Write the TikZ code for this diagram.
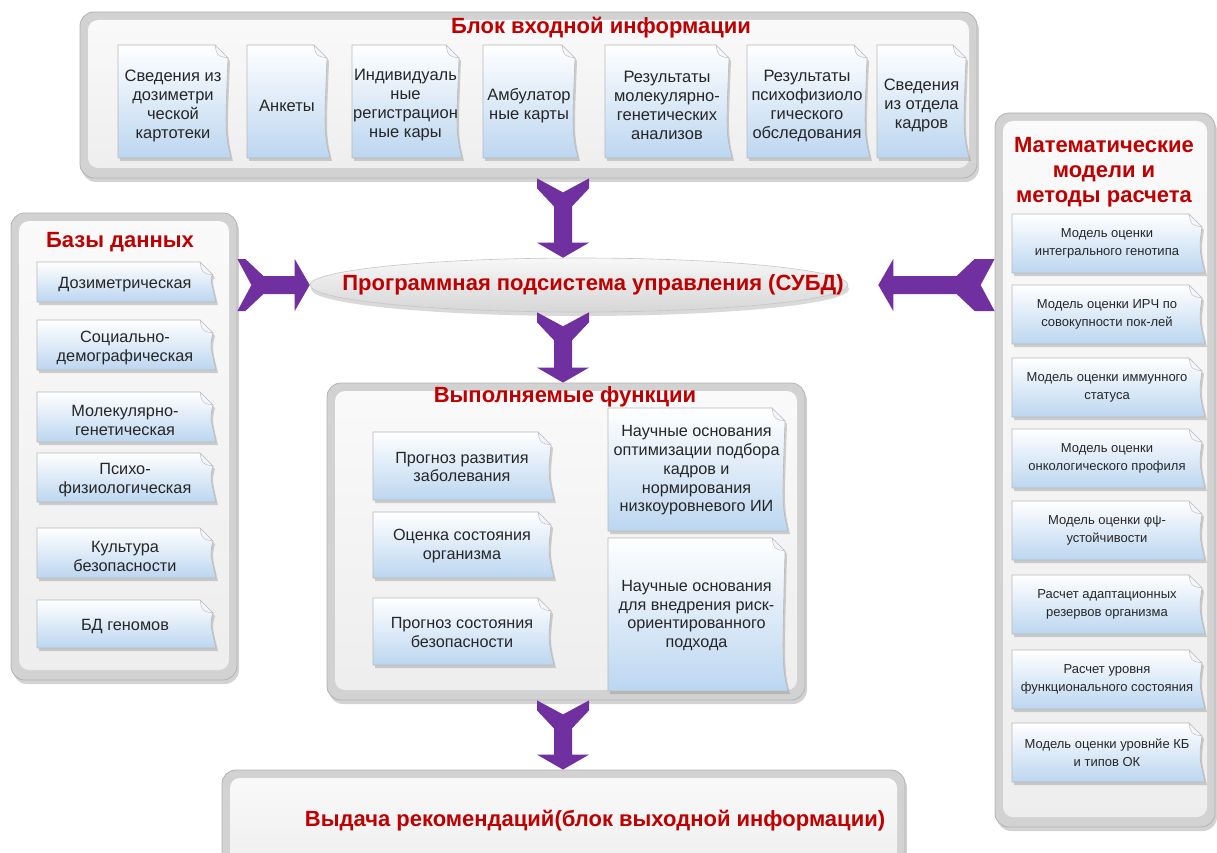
\documentclass[tikz,border=0pt]{standalone}
\usepackage{fontspec}
\setmainfont{Liberation Sans}
\usetikzlibrary{calc,shadows,shapes.geometric}

\begin{document}
\begin{tikzpicture}[x=1pt,y=-1pt,
	panel/.style={rectangle,rounded corners=14pt,draw=gray!60,line width=0.8pt,fill=gray!35,
		drop shadow={opacity=0.35,shadow xshift=2pt,shadow yshift=-4pt},
		path picture={\fill[rounded corners=10pt,top color=gray!4,bottom color=gray!14]
			([shift={(8pt,-8pt)}]path picture bounding box.north west) rectangle
			([shift={(-8pt,10pt)}]path picture bounding box.south east);}},
	subdbox/.style={ellipse,draw=gray!45,line width=0.6pt,top color=gray!6,bottom color=gray!32,
		drop shadow={opacity=0.3,shadow xshift=1pt,shadow yshift=-4pt}},
	title/.style={text=titlered,font=\fontsize{22}{25}\selectfont\bfseries,align=center,inner sep=0pt},
	cardbody/.style={top color=white,bottom color=cardblue,draw=gray!55,line width=0.6pt,
		drop shadow={opacity=0.35,shadow xshift=2pt,shadow yshift=-3pt}},
	cardfold/.style={fill=blue!4,draw=gray!50,line width=0.5pt},
	cardtext/.style={align=center,text=black!85,inner sep=0pt,font=\fontsize{15}{19}\selectfont},
	arrowc/.style={fill=arrowviolet}]

\definecolor{titlered}{RGB}{192,0,0}
\definecolor{arrowviolet}{RGB}{112,48,160}
\definecolor{cardblue}{RGB}{188,214,240}

\def\card#1#2#3#4#5#6{
	\path[cardbody] (#2,#3) -- (#4-13,#3) -- (#4,#3+13) .. controls (#4-3,#5-25) .. (#4+3,#5) -- (#2,#5) -- cycle;
	\path[cardfold] (#4-13,#3) -- (#4,#3+13) .. controls (#4-11,#3+11) .. (#4-13,#3) -- cycle;
	\node[cardtext] (#1) at ({(#2+#4)/2},{(#3+#5)/2}) {#6};
}

\def\fat#1#2#3{
	\fill[arrowc] ($(#1)!26pt!90:(#2)$) -- ($(#1)!14pt!(#2)$) -- ($(#1)!26pt!-90:(#2)$)
		-- ($(#1)!#3!(#2)!26pt!-90:(#2)$) -- ($(#1)!#3+18pt!(#2)!9pt!-90:(#2)$)
		-- ($(#2)!15pt!(#1)!9pt!90:(#1)$) -- ($(#2)!15pt!(#1)!26pt!90:(#1)$) -- (#2)
		-- ($(#2)!15pt!(#1)!26pt!-90:(#1)$) -- ($(#2)!15pt!(#1)!9pt!-90:(#1)$)
		-- ($(#1)!#3+18pt!(#2)!9pt!90:(#2)$) -- ($(#1)!#3!(#2)!26pt!90:(#2)$) -- cycle;
}

\useasboundingbox (0,0) rectangle (1217,853);
\clip (0,0) rectangle (1217,853);

\node[panel,minimum width=897pt,minimum height=166pt] (top) at (528.5,95) {};
\node[panel,minimum width=226pt,minimum height=467pt] (dbase) at (124,446.5) {};
\node[panel,minimum width=220pt,minimum height=714pt] (models) at (1105,470) {};
\node[panel,minimum width=478pt,minimum height=317pt] (func) at (566,541.5) {};
\node[panel,minimum width=683pt,minimum height=110pt] (out) at (563.5,825) {};
\node[subdbox,minimum width=538pt,minimum height=54pt] (subd) at (579,285) {};

\node[title] (toptitle) at (601,28) {Блок входной информации};
\node[title] (dbtitle) at (120,242) {Базы данных};
\node[title] (modtitle) at (1104,172) {Математические\\модели и\\методы расчета};
\node[title] (functitle) at (565,397) {Выполняемые функции};
\node[title] (subdtext) at (593,285) {Программная подсистема управления (СУБД)};
\node[title] (outtext) at (595,821) {Выдача рекомендаций(блок выходной информации)};

\begin{scope}[cardtext/.append style={font=\fontsize{16.5}{19}\selectfont,yshift=-4pt}]
	\foreach \n/\xa/\xb/\t in {in1/118/228/{Сведения из\\дозиметри\\ческой\\картотеки},
			in2/247/327/{Анкеты},
			in3/352/459/{Индивидуаль\\ные\\регистрацион\\ные кары},
			in4/483/575/{Амбулатор\\ные карты},
			in5/605/729/{Результаты\\молекулярно-\\генетических\\анализов},
			in6/747/867/{Результаты\\психофизиоло\\гического\\обследования},
			in7/877/966/{Сведения\\из отдела\\кадров}}{
		\card{\n}{\xa}{45}{\xb}{158}{\t}
	}
\end{scope}

\begin{scope}[cardtext/.append style={font=\fontsize{16.3}{19}\selectfont,yshift=-3pt}]
	\foreach \n/\ya/\yb/\t in {db1/262/302/{Дозиметрическая},
			db2/320/370/{Социально-\\демографическая},
			db3/392/442/{Молекулярно-\\генетическая},
			db4/453/502/{Психо-\\физиологическая},
			db5/528/578/{Культура\\безопасности},
			db6/600/648/{БД геномов}}{
		\card{\n}{37}{\ya}{213}{\yb}{\t}
	}
\end{scope}

\begin{scope}[cardtext/.append style={font=\fontsize{13}{17.5}\selectfont}]
	\foreach \n/\ya/\t in {md1/214/{Модель оценки\\интегрального генотипа},
			md2/285/{Модель оценки ИРЧ по\\совокупности пок-лей},
			md3/358/{Модель оценки иммунного\\статуса},
			md4/429/{Модель оценки\\онкологического профиля},
			md5/501/{Модель оценки φψ-\\устойчивости},
			md6/575/{Расчет адаптационных\\резервов организма},
			md7/650/{Расчет уровня\\функционального состояния},
			md8/723/{Модель оценки уровнйе КБ\\и типов ОК}}{
		\card{\n}{1012}{\ya}{1202}{\ya+59}{\t}
	}
\end{scope}

\begin{scope}[cardtext/.append style={font=\fontsize{16.2}{18.7}\selectfont,yshift=-1pt}]
	\card{fn1}{373}{432}{551}{500}{Прогноз развития\\заболевания}
	\card{fn2}{373}{512}{551}{578}{Оценка состояния\\организма}
	\card{fn3}{373}{598}{551}{665}{Прогноз состояния\\безопасности}
	\card{fn4}{608}{408}{785}{531}{Научные основания\\оптимизации подбора\\кадров и\\нормирования\\низкоуровневого ИИ}
	\card{fn5}{608}{538}{785}{691}{Научные основания\\для внедрения риск-\\ориентированного\\подхода}
\end{scope}

\coordinate (ax) at (563,0);
\coordinate (a1) at (ax |- top.south);
\coordinate (a2) at (ax |- subd.north);
\coordinate (a3) at (ax |- subd.south);
\coordinate (a4) at (ax |- func.north);
\coordinate (a5) at (ax |- func.south);
\coordinate (a6) at (ax |- out.north);
\coordinate (l1) at (dbase.east |- subd.center);
\coordinate (r1) at (models.west |- subd.center);
\coordinate (r2) at ([xshift=30pt]subd.east);

\fat{a1}{a2}{10pt}
\fat{a3}{a4}{10pt}
\fat{a5}{a6}{10pt}
\fat{l1}{subd.west}{8pt}
\fat{r1}{r2}{20pt}

\end{tikzpicture}
\end{document}
